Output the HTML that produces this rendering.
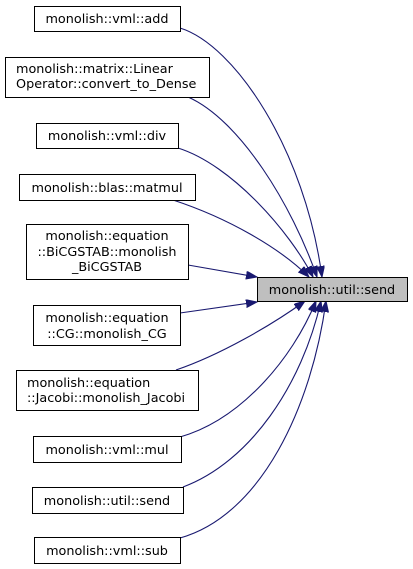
<!DOCTYPE html>
<html><head><meta charset="utf-8"><style>
html,body{margin:0;padding:0;background:#fff;}
svg{display:block;}
text{font-family:"DejaVu Sans","Liberation Sans",sans-serif;font-size:12.8px;fill:#000;}
</style></head><body>
<svg width="413" height="569" viewBox="0 0 413 569" xmlns="http://www.w3.org/2000/svg">
<defs>
<marker id="a" markerUnits="userSpaceOnUse" markerWidth="12" markerHeight="9" refX="11" refY="4" orient="auto">
<path d="M0,0 L11,4 L0,8 z" fill="#191970" stroke="#191970"/>
</marker>
</defs>
<g fill="none" stroke="#191970" stroke-width="1.1" marker-end="url(#a)">
<path d="M180,28 C235,45 305,150 322,277"/>
<path d="M188,97 C240,120 292,205 317,277"/>
<path d="M178,148 C232,165 290,232 313,277"/>
<path d="M173,200 C228,218 280,248 309,277"/>
<path d="M188,265 L257,277"/>
<path d="M180,313 L257,302"/>
<path d="M176,370 C220,355 272,325 305,301"/>
<path d="M180,437 C240,420 292,360 316,301"/>
<path d="M183,487 C250,462 302,385 321,301"/>
<path d="M180,538 C262,515 312,405 326,301"/>
</g>
<g fill="#fff" stroke="#000" stroke-width="1">
<rect x="34.5" y="6.5" width="146" height="25"/>
<rect x="5.5" y="57.5" width="204" height="40"/>
<rect x="36.5" y="123.5" width="142" height="25"/>
<rect x="19.5" y="174.5" width="176" height="26"/>
<rect x="26.5" y="224.5" width="162" height="55"/>
<rect x="33.5" y="305.5" width="147" height="40"/>
<rect x="16.5" y="370.5" width="182" height="40"/>
<rect x="33.5" y="436.5" width="148" height="26"/>
<rect x="32.5" y="487.5" width="151" height="26"/>
<rect x="34.5" y="537.5" width="146" height="26"/>
<rect x="257.5" y="277.5" width="150" height="24" fill="#bfbfbf"/>
</g>
<g text-anchor="middle">
<text x="107" y="23">monolish::vml::add</text>
<text x="107" y="140">monolish::vml::div</text>
<text x="107" y="192">monolish::blas::matmul</text>
<text x="107" y="240">monolish::equation</text>
<text x="107" y="256">::BiCGSTAB::monolish</text>
<text x="107" y="271">_BiCGSTAB</text>
<text x="107" y="322">monolish::equation</text>
<text x="107" y="338">::CG::monolish_CG</text>
<text x="107" y="454">monolish::vml::mul</text>
<text x="107" y="505">monolish::util::send</text>
<text x="107" y="555">monolish::vml::sub</text>
<text x="332" y="294">monolish::util::send</text>
</g>
<g text-anchor="start">
<text x="16" y="73">monolish::matrix::Linear</text>
<text x="16" y="88">Operator::convert_to_Dense</text>
<text x="27" y="387">monolish::equation</text>
<text x="27" y="402">::Jacobi::monolish_Jacobi</text>
</g>
</svg>
</body></html>
